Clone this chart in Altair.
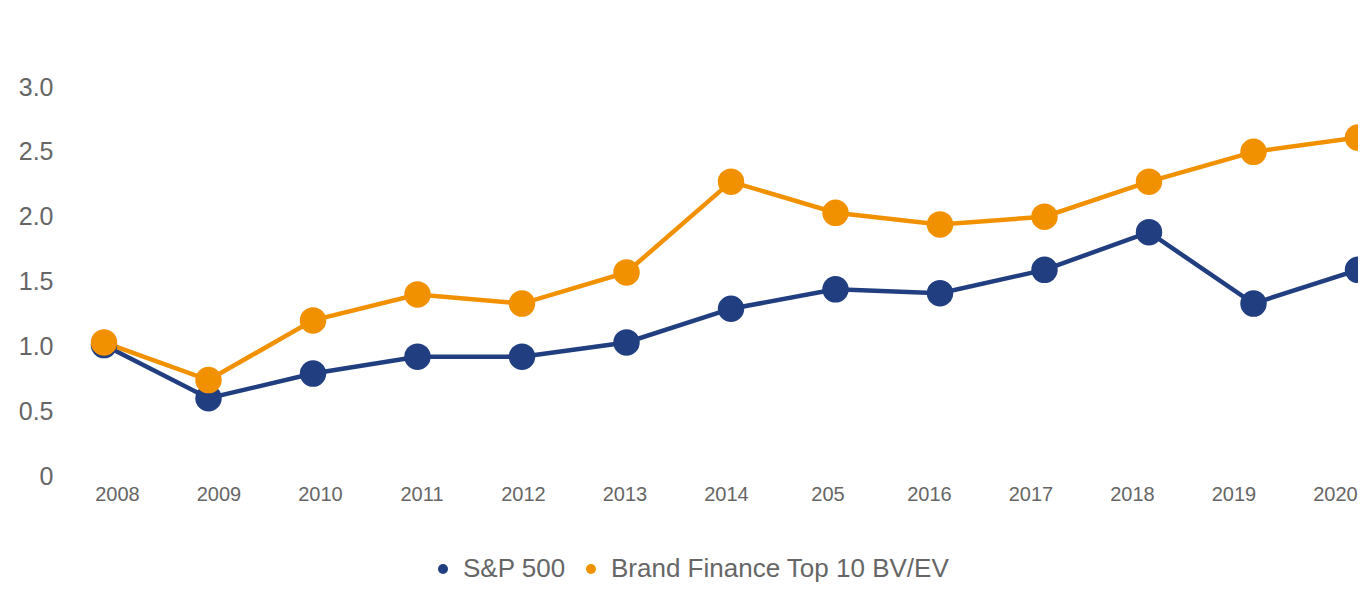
import altair as alt
import pandas as pd

years = ["2008", "2009", "2010", "2011", "2012", "2013", "2014", "205",
         "2016", "2017", "2018", "2019", "2020"]
sp500 = [1.01, 0.60, 0.79, 0.92, 0.92, 1.03, 1.29, 1.44, 1.41, 1.59, 1.88, 1.33, 1.59]
brand = [1.03, 0.74, 1.20, 1.40, 1.33, 1.57, 2.27, 2.03, 1.94, 2.00, 2.27, 2.50, 2.61]
series_names = ["S&P 500", "Brand Finance Top 10 BV/EV"]
series_colors = ["#213f80", "#f29100"]

rows = []
for i, y in enumerate(years):
    rows.append({"year": y, "order": i, "series": series_names[0], "value": sp500[i]})
for i, y in enumerate(years):
    rows.append({"year": y, "order": i, "series": series_names[1], "value": brand[i]})
df = pd.DataFrame(rows)

FONT = "Liberation Sans"
GRAY = "#666666"

color = alt.Color(
    "series:N",
    scale=alt.Scale(domain=series_names, range=series_colors),
    legend=alt.Legend(
        title=None, orient="none", direction="horizontal",
        legendX=360, legendY=469, symbolType="circle", symbolSize=100,
        symbolStrokeWidth=0, labelFontSize=26, labelColor=GRAY, labelFont=FONT,
        labelOffset=7, columnPadding=12, padding=0, labelLimit=700,
    ),
)

yenc = alt.Y(
    "value:Q",
    scale=alt.Scale(domain=[0, 3], nice=False, zero=True),
    axis=alt.Axis(
        title=None, values=[0, 0.5, 1, 1.5, 2, 2.5, 3], grid=False, domain=False,
        ticks=False, labelFontSize=25, labelColor=GRAY, labelFont=FONT,
        labelPadding=17,
        labelExpr="datum.value == 0 ? '0' : format(datum.value, '.1f')",
    ),
)

xpts = alt.X(
    "year:O", sort=years,
    scale=alt.Scale(type="point", domain=years, range=[34, 1288], padding=0),
    axis=None,
)

lines = alt.Chart(df).mark_line(strokeWidth=4.5).encode(
    x=xpts, y=yenc, color=color,
    detail="series:N",
    order="order:Q",
)

points = alt.Chart(df).mark_circle(size=700, opacity=1).encode(
    x=xpts, y=yenc, color=color,
)

labels_layer = alt.Chart(df).mark_point(opacity=0).encode(
    x=alt.X(
        "year:O", sort=years,
        scale=alt.Scale(type="point", domain=years, range=[47, 1265], padding=0),
        axis=alt.Axis(
            title=None, orient="bottom", domain=False, ticks=False, grid=False,
            labelAngle=0, labelFontSize=20, labelColor=GRAY, labelFont=FONT,
            labelPadding=8,
        ),
    ),
    y=yenc,
)

chart = alt.layer(lines, points, labels_layer).resolve_scale(
    x="independent"
).properties(
    width=1288, height=389,
    autosize=alt.AutoSizeParams(type="none"),
    padding={"left": 62, "top": 79, "right": 0, "bottom": 107},
).configure_view(stroke=None)

chart.save("out.html", embed_options={"renderer": "svg", "actions": False})
